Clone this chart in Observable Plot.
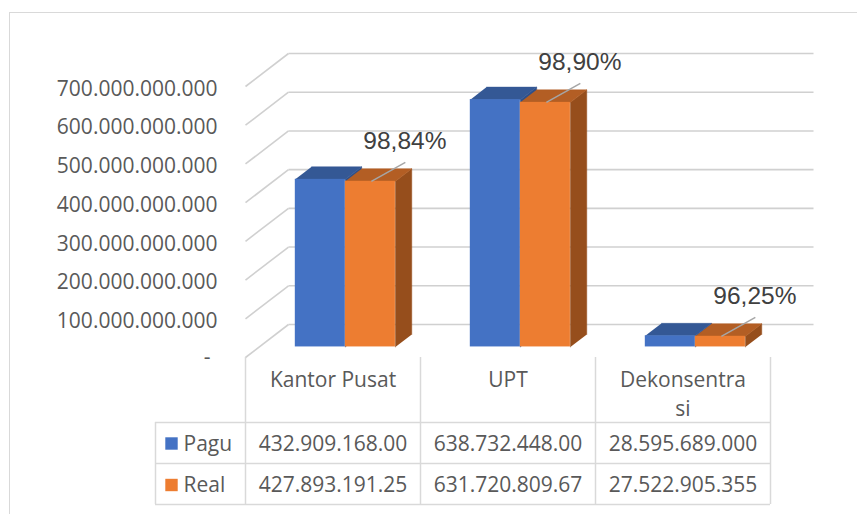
<!DOCTYPE html>
<html><head><meta charset="utf-8">
<script src="https://cdn.jsdelivr.net/npm/d3@7"></script>
<script src="https://cdn.jsdelivr.net/npm/@observablehq/plot@0.6"></script>
<style>
body{margin:0;background:#fff;}
#wrap{position:relative;width:857px;height:514px;overflow:hidden;background:#fff;}
#frame{position:absolute;left:9px;top:12px;width:900px;height:600px;border:1.5px solid #d9d9d9;box-sizing:border-box;pointer-events:none;}
#chart{position:absolute;left:0;top:0;}
</style></head><body>
<div id="wrap"><div id="chart"></div><div id="frame"></div></div>
<script>
// ---- data ----
const categories = ["Kantor Pusat", "UPT", "Dekonsentrasi"];
const categoryLabels = ["Kantor Pusat", "UPT", "Dekonsentra\nsi"];
const series = ["Pagu", "Real"];
const pagu = [432909168000, 638732448000, 28595689000];
const real = [427893191250, 631720809670, 27522905355];
const paguLabels = ["432.909.168.00", "638.732.448.00", "28.595.689.000"];
const realLabels = ["427.893.191.25", "631.720.809.67", "27.522.905.355"];
const yTicks = [0, 100e9, 200e9, 300e9, 400e9, 500e9, 600e9, 700e9];
const yTickLabels = ["-", "100.000.000.000", "200.000.000.000", "300.000.000.000",
  "400.000.000.000", "500.000.000.000", "600.000.000.000", "700.000.000.000"];

// ---- layout ----
const W = 857, H = 514;
const X0 = 245, X1 = 770;      // px range of the 3 category columns
const YB = 357, YT = 86;        // px of value 0 and 700e9 on front plane
const VMAX = 700e9;
const pxPerX = (X1 - X0) / categories.length;
const pxPerV = (YB - YT) / VMAX;
const DEPTH_X = 43, DEPTH_Y = 33; // wall depth in px
const ZF = 0.32, ZB = 0.70;       // bar front/back depth
const BAR_OFF = 0.206, BAR_W = 0.286;
const ux = px => px / pxPerX;
const uv = px => px / pxPerV;
const proj = (x, v, z) => ({x: x + ux(z * DEPTH_X), y: v + uv(z * DEPTH_Y)});

const colors = {
  Pagu: {front: "#4472C4", top: "#345895", side: "#2f4f88"},
  Real: {front: "#ED7D31", top: "#B35E24", side: "#964E1C"}
};

// bars
const bars = [];
const faces = {Pagu: {top: [], side: []}, Real: {top: [], side: []}};
categories.forEach((c, i) => {
  series.forEach((s, j) => {
    const v = j === 0 ? pagu[i] : real[i];
    const xa = i + BAR_OFF + j * BAR_W, xb = xa + BAR_W;
    const f0 = proj(xa, 0, ZF), f1 = proj(xb, v, ZF);
    bars.push({series: s, x1: f0.x, x2: f1.x, y1: f0.y, y2: f1.y});
    [[xa, v, ZF], [xb, v, ZF], [xb, v, ZB], [xa, v, ZB]]
      .forEach(p => faces[s].top.push({id: c, ...proj(...p)}));
    [[xb, 0, ZF], [xb, v, ZF], [xb, v, ZB], [xb, 0, ZB]]
      .forEach(p => faces[s].side.push({id: c, ...proj(...p)}));
  });
});

// percentage labels
const pct = categories.map((c, i) => {
  const a = proj(i + BAR_OFF + BAR_W + ux(26), real[i], ZF);
  return {
    x1: a.x, y1: a.y, x2: a.x + ux(34), y2: a.y + uv(19),
    text: (real[i] / pagu[i] * 100).toFixed(2).replace(".", ",") + "%"
  };
});

// gridlines
const backGrid = yTicks.map(v => ({a: proj(0, v, 1), b: proj(categories.length, v, 1)}));
const sideGrid = yTicks.map(v => ({a: proj(0, v, 0), b: proj(0, v, 1)}));

const gridStroke = "#d0d0d0";
const lineStroke = "#d9d9d9";
const textColor = "#595959";
const font = "Open Sans";
const fs = 21;

const marks = [
  Plot.link(backGrid, {x1: d => d.a.x, y1: d => d.a.y, x2: d => d.b.x, y2: d => d.b.y, stroke: gridStroke, strokeWidth: 1.6}),
  Plot.link(sideGrid, {x1: d => d.a.x, y1: d => d.a.y, x2: d => d.b.x, y2: d => d.b.y, stroke: gridStroke, strokeWidth: 1.6}),
  Plot.text(yTicks.slice(1), {x: 0, y: d => d, text: (d, i) => yTickLabels[i + 1], textAnchor: "end", dx: -28, dy: 2.5, fill: textColor, fontSize: fs, fontFamily: font}),
  Plot.text([0], {x: 0, y: 0, text: () => yTickLabels[0], textAnchor: "end", dx: -35, dy: 0, fill: textColor, fontSize: fs, fontFamily: font})
];
series.forEach(s => {
  marks.push(
    Plot.line(faces[s].side, {x: "x", y: "y", z: "id", fill: colors[s].side, stroke: colors[s].side, strokeWidth: 0.5}),
    Plot.line(faces[s].top, {x: "x", y: "y", z: "id", fill: colors[s].top, stroke: colors[s].top, strokeWidth: 0.5}),
    Plot.rect(bars.filter(b => b.series === s), {x1: "x1", x2: "x2", y1: "y1", y2: "y2", fill: colors[s].front})
  );
});
marks.push(
  Plot.link(pct, {x1: "x1", y1: "y1", x2: "x2", y2: "y2", stroke: "#a6a6a6", strokeWidth: 1.5}),
  Plot.text(pct, {x: "x2", y: "y2", text: "text", textAnchor: "start", dx: -42, dy: -21, fill: "#404040", fontSize: 24.5, fontFamily: "Liberation Sans, Arial, sans-serif"})
);

// data table
const legendX = ux(-90);
const rowY = [65, 106, 147].map(p => -uv(p));
marks.push(
  Plot.ruleY(rowY, {y: d => d, x1: legendX, x2: categories.length, stroke: lineStroke, strokeWidth: 1.5}),
  Plot.ruleX([0, 1, 2, 3], {x: d => d, y1: 0, y2: rowY[2], stroke: lineStroke, strokeWidth: 1.5}),
  Plot.ruleX([legendX], {x: d => d, y1: rowY[0], y2: rowY[2], stroke: lineStroke, strokeWidth: 1.5}),
  Plot.text(categories, {x: (d, i) => i + 0.5, y: 0, text: (d, i) => categoryLabels[i], lineAnchor: "top", lineHeight: 1.4, dy: 8.5, fill: textColor, fontSize: fs, fontFamily: font}),
  Plot.text(categories, {x: (d, i) => i + 0.5, y: 0, text: (d, i) => paguLabels[i], dy: 86.5, fill: textColor, fontSize: fs, fontFamily: font}),
  Plot.text(categories, {x: (d, i) => i + 0.5, y: 0, text: (d, i) => realLabels[i], dy: 127.5, fill: textColor, fontSize: fs, fontFamily: font}),
  Plot.dot([series[0]], {x: 0, y: 0, dx: -74, dy: 86, symbol: "square", r: 7, fill: colors.Pagu.front, stroke: null}),
  Plot.dot([series[1]], {x: 0, y: 0, dx: -74, dy: 127.5, symbol: "square", r: 7, fill: colors.Real.front, stroke: null}),
  Plot.text([series[0]], {x: 0, y: 0, text: d => d, textAnchor: "start", dx: -62, dy: 86.5, fill: textColor, fontSize: fs, fontFamily: font}),
  Plot.text([series[1]], {x: 0, y: 0, text: d => d, textAnchor: "start", dx: -62, dy: 127.5, fill: textColor, fontSize: fs, fontFamily: font})
);

const chart = Plot.plot({
  width: W, height: H,
  marginLeft: X0, marginRight: W - X1, marginTop: YT, marginBottom: H - YB,
  x: {type: "linear", domain: [0, categories.length], axis: null},
  y: {type: "linear", domain: [0, VMAX], axis: null},
  style: {background: "transparent", fontFamily: font, fontSize: fs + "px", color: textColor},
  marks
});
document.getElementById("chart").appendChild(chart);
</script>
</body></html>
